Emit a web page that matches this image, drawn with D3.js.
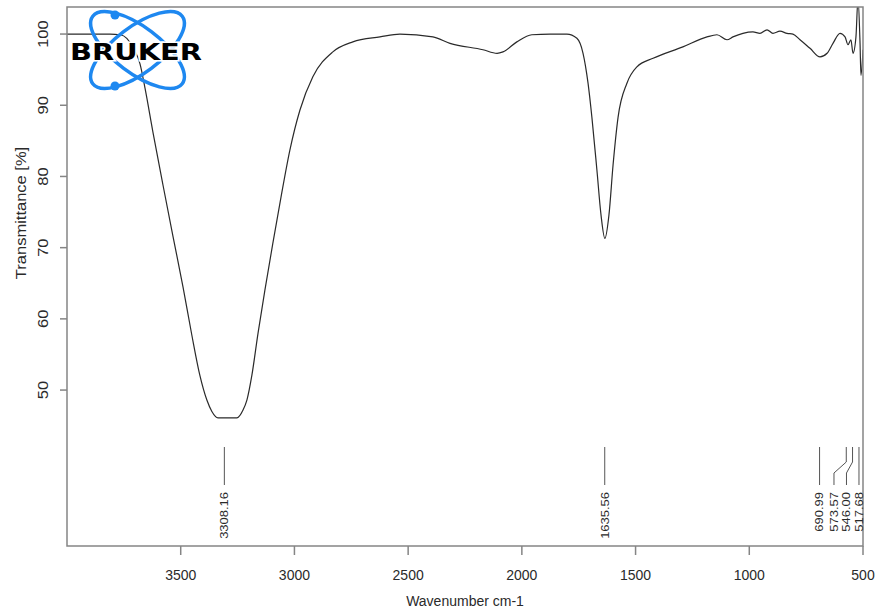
<!DOCTYPE html>
<html>
<head>
<meta charset="utf-8">
<script src="https://cdn.jsdelivr.net/npm/d3@7"></script>
<style>
  body { margin: 0; background: #fff; }
  svg { display: block; font-family: "Liberation Sans", Arial, sans-serif; }
</style>
</head>
<body>
<svg id="chart"></svg>
<script>
// spectrum (wavenumber cm-1 -> transmittance %)
const wavenumber = [4000, 3899, 3811, 3767, 3737, 3706, 3679, 3657, 3622, 3578, 3534, 3490, 3451, 3416, 3385, 3363,
  3336, 3292, 3253, 3226, 3209, 3187, 3160, 3130, 3095, 3059, 3020, 2976, 2919, 2831, 2743, 2624, 2536,
  2391, 2316, 2171, 2109, 2083, 2022, 1956, 1876, 1802, 1758, 1731, 1709, 1692, 1670, 1652, 1635,
  1617, 1599, 1577, 1538, 1494, 1423, 1292, 1186, 1142, 1098, 1072, 1028, 984, 953, 922, 896,
  865, 834, 808, 777, 733, 689, 658, 632, 601, 579, 566, 553, 544, 531, 522, 513, 509, 500]
const transmittance = [100.0, 100.0, 100.0, 99.9, 99.4, 97.9, 95.8, 92.4, 86.2, 78.8, 71.6, 64.5, 57.7, 52.1, 48.6, 47.0,
  46.1, 46.1, 46.1, 47.2, 48.6, 52.1, 58.0, 64.0, 70.6, 77.1, 83.7, 89.3, 94.0, 97.5, 98.9, 99.6, 100.0,
  99.6, 98.7, 97.8, 97.3, 97.5, 98.9, 99.9, 100.0, 100.0, 99.4, 97.3, 93.1, 88.3, 80.9, 74.6, 71.3,
  74.6, 81.6, 88.3, 93.1, 95.4, 96.6, 98.2, 99.6, 99.9, 99.2, 99.6, 100.1, 100.3, 100.1, 100.6, 100.1,
  100.4, 100.1, 100.0, 99.2, 98.0, 96.8, 97.3, 98.7, 100.1, 99.6, 98.5, 99.2, 97.3, 99.6, 105.0, 98.7, 94.2, 97.8]

const peaks = [3308.16, 1635.56, 690.99, 573.57, 546.00, 517.68]
const peakLabels = ["3308.16", "1635.56", "690.99", "573.57", "546.00", "517.68"]
const xTicks = [3500, 3000, 2500, 2000, 1500, 1000, 500]
const yTicks = [50, 60, 70, 80, 90, 100]

const width = 881, height = 615
const plotLeft = 67, plotRight = 863, plotTop = 7, plotBottom = 546
const stretch = 1.18   // vertical text in the reference is drawn a bit taller

let svg = d3.select("#chart").attr("width", width).attr("height", height)

let scale_x = d3.scaleLinear().domain([4000, 500]).range([plotLeft, plotRight])
let scale_y = d3.scaleLinear().domain([28.1, 103.8]).range([plotBottom, plotTop])

svg.append("clipPath").attr("id", "plotClip")
  .append("rect")
  .attr("x", plotLeft).attr("y", plotTop)
  .attr("width", plotRight - plotLeft).attr("height", plotBottom - plotTop)

// spectrum
let data = wavenumber.map((w, i) => [w, transmittance[i]])
let linePath = d3.line()
  .x(d => scale_x(d[0]))
  .y(d => scale_y(d[1]))
  .curve(d3.curveMonotoneX)
svg.append("path")
  .attr("clip-path", "url(#plotClip)")
  .attr("fill", "none")
  .attr("stroke", "#2a2a2a")
  .attr("stroke-width", 1.2)
  .attr("d", linePath(data))

// logo
let logo = svg.append("g").attr("transform", "translate(137.5,50)")
;[-37, 37].forEach(a => {
  logo.append("ellipse")
    .attr("rx", 56).attr("ry", 23)
    .attr("transform", "rotate(" + a + ")")
    .attr("fill", "none")
    .attr("stroke", "#1e88f0")
    .attr("stroke-width", 3.5)
})
logo.append("circle").attr("cx", -22.5).attr("cy", -35).attr("r", 4.5).attr("fill", "#1e88f0")
logo.append("circle").attr("cx", -22.5).attr("cy", 36).attr("r", 4.5).attr("fill", "#1e88f0")
svg.append("text")
  .attr("x", 70).attr("y", 60)
  .attr("textLength", 132).attr("lengthAdjust", "spacingAndGlyphs")
  .style("font-family", "'DejaVu Sans', sans-serif")
  .style("font-weight", "bold")
  .style("font-size", "23px")
  .style("paint-order", "stroke")
  .attr("stroke", "#fff").attr("stroke-width", 3)
  .attr("fill", "#000")
  .text("BRUKER")

// box and ticks
const axisColor = "#858585"
svg.append("rect")
  .attr("x", plotLeft).attr("y", plotTop)
  .attr("width", plotRight - plotLeft).attr("height", plotBottom - plotTop)
  .attr("fill", "none").attr("stroke", axisColor).attr("stroke-width", 1.5)

let xAxis = svg.append("g")
xTicks.forEach(t => {
  xAxis.append("line")
    .attr("x1", scale_x(t)).attr("x2", scale_x(t))
    .attr("y1", plotBottom).attr("y2", plotBottom + 9)
    .attr("stroke", axisColor).attr("stroke-width", 1.5)
  xAxis.append("text")
    .attr("x", scale_x(t)).attr("y", 580)
    .attr("text-anchor", "middle")
    .style("font-size", "14px").attr("fill", "#2a2a2a")
    .text(t)
})

let yAxis = svg.append("g")
yTicks.forEach(t => {
  yAxis.append("line")
    .attr("x1", plotLeft - 7).attr("x2", plotLeft)
    .attr("y1", scale_y(t)).attr("y2", scale_y(t))
    .attr("stroke", axisColor).attr("stroke-width", 1.5)
  yAxis.append("text")
    .attr("transform", "translate(43.5," + scale_y(t) + ") scale(1," + stretch + ") rotate(-90)")
    .attr("dy", "0.35em")
    .attr("text-anchor", "middle")
    .style("font-size", "14px").attr("fill", "#2a2a2a")
    .text(t)
})

svg.append("text")
  .attr("x", (plotLeft + plotRight) / 2).attr("y", 606)
  .attr("text-anchor", "middle")
  .style("font-size", "14px").attr("fill", "#2a2a2a")
  .text("Wavenumber cm-1")

svg.append("text")
  .attr("transform", "translate(21,213) scale(1," + stretch + ") rotate(-90)")
  .attr("dy", "0.35em")
  .attr("text-anchor", "middle")
  .style("font-size", "14px").attr("fill", "#2a2a2a")
  .text("Transmittance [%]")

// peak picks: spread crowded labels apart, working right to left
let px = peaks.map(p => scale_x(p))
let order = d3.range(peaks.length).sort((a, b) => px[b] - px[a])
let lx = px.slice()
let prev = Infinity
order.forEach(i => {
  lx[i] = Math.min(px[i], prev - 12.5)
  prev = lx[i]
})

let marks = svg.append("g")
peaks.forEach((p, i) => {
  marks.append("path")
    .attr("fill", "none").attr("stroke", "#555").attr("stroke-width", 1)
    .attr("d", d3.line()([[px[i], 447], [px[i], 462], [lx[i], 473], [lx[i], 485]]))
  marks.append("text")
    .attr("transform", "translate(" + lx[i] + ",492) scale(1," + stretch + ") rotate(-90)")
    .attr("dy", "0.35em")
    .attr("text-anchor", "end")
    .style("font-size", "11px").attr("fill", "#2a2a2a")
    .text(peakLabels[i])
})
</script>
</body>
</html>
